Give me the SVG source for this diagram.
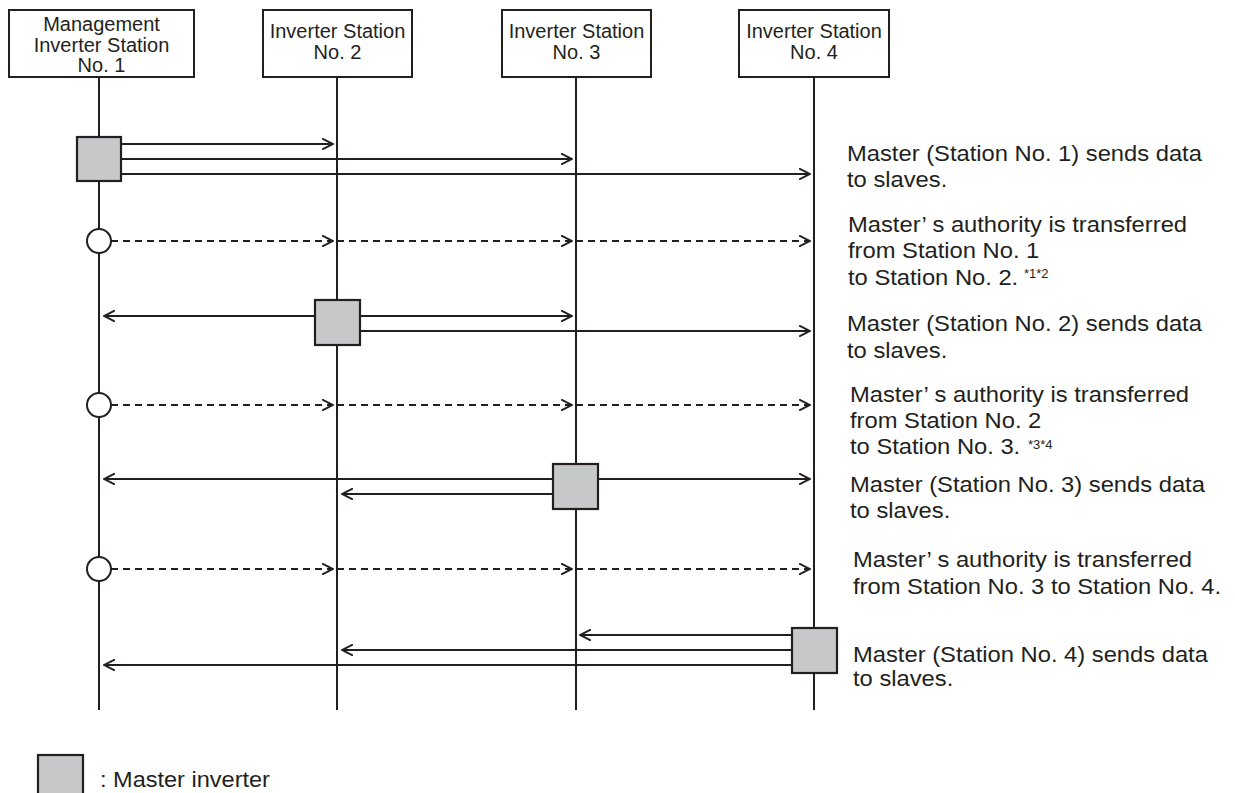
<svg xmlns="http://www.w3.org/2000/svg" width="1235" height="793" viewBox="0 0 1235 793">
  <style>
    .hdr { fill: #fff; stroke: #231f20; stroke-width: 2; }
    .life { stroke: #231f20; stroke-width: 2; fill: none; }
    .master { fill: #c7c8ca; stroke: #231f20; stroke-width: 2.2; }
    .token { fill: #fff; stroke: #231f20; stroke-width: 2; }
    .msg { stroke: #231f20; stroke-width: 2; fill: none; marker-end: url(#chev); }
    .dash { stroke: #231f20; stroke-width: 2; fill: none; stroke-dasharray: 7 5; marker-end: url(#chev); }
    text { font-family: "Liberation Sans", Arial, Helvetica, sans-serif; fill: #231f20; }
    .htxt { font-size: 20px; text-anchor: middle; }
    .note { font-size: 22px; }
    .sup { font-size: 13px; }
  </style>
  <defs>
    <marker id="chev" viewBox="0 0 12 12" markerWidth="12" markerHeight="12" markerUnits="userSpaceOnUse" refX="11" refY="6" orient="auto">
      <path d="M0,0.5 L11,6 L0,11.5" fill="none" stroke="#231f20" stroke-width="2"/>
    </marker>
  </defs>

  <rect width="1235" height="793" fill="#fff"/>

  <!-- stations: header box + lifeline -->
  <g id="station1">
    <rect class="hdr" x="9" y="10" width="185" height="67"/>
    <text class="htxt" x="101.5" y="31">Management</text>
    <text class="htxt" x="101.5" y="52">Inverter Station</text>
    <text class="htxt" x="101.5" y="72">No. 1</text>
    <line class="life" x1="99" y1="77" x2="99" y2="710"/>
  </g>
  <g id="station2">
    <rect class="hdr" x="263" y="10" width="149" height="67"/>
    <text class="htxt" x="337.5" y="38">Inverter Station</text>
    <text class="htxt" x="337.5" y="59">No. 2</text>
    <line class="life" x1="337" y1="77" x2="337" y2="710"/>
  </g>
  <g id="station3">
    <rect class="hdr" x="502" y="10" width="149" height="67"/>
    <text class="htxt" x="576.5" y="38">Inverter Station</text>
    <text class="htxt" x="576.5" y="59">No. 3</text>
    <line class="life" x1="576" y1="77" x2="576" y2="710"/>
  </g>
  <g id="station4">
    <rect class="hdr" x="739" y="10" width="150" height="67"/>
    <text class="htxt" x="814" y="38">Inverter Station</text>
    <text class="htxt" x="814" y="59">No. 4</text>
    <line class="life" x1="814" y1="77" x2="814" y2="710"/>
  </g>

  <!-- messages -->
  <g id="connectors">
    <!-- master 1 broadcast -->
    <line class="msg" x1="121" y1="144" x2="333" y2="144"/>
    <line class="msg" x1="121" y1="159" x2="572" y2="159"/>
    <line class="msg" x1="121" y1="174" x2="810" y2="174"/>
    <!-- token pass 1 -->
    <line class="dash" x1="111" y1="241" x2="333" y2="241"/>
    <line class="dash" x1="337" y1="241" x2="572" y2="241"/>
    <line class="dash" x1="576" y1="241" x2="810" y2="241"/>
    <!-- master 2 broadcast -->
    <line class="msg" x1="315" y1="316" x2="104" y2="316"/>
    <line class="msg" x1="360" y1="316" x2="572" y2="316"/>
    <line class="msg" x1="360" y1="331" x2="810" y2="331"/>
    <!-- token pass 2 -->
    <line class="dash" x1="111" y1="405" x2="333" y2="405"/>
    <line class="dash" x1="337" y1="405" x2="572" y2="405"/>
    <line class="dash" x1="576" y1="405" x2="810" y2="405"/>
    <!-- master 3 broadcast -->
    <line class="msg" x1="553" y1="479" x2="104" y2="479"/>
    <line class="msg" x1="598" y1="479" x2="810" y2="479"/>
    <line class="msg" x1="553" y1="494" x2="342" y2="494"/>
    <!-- token pass 3 -->
    <line class="dash" x1="111" y1="569" x2="333" y2="569"/>
    <line class="dash" x1="337" y1="569" x2="572" y2="569"/>
    <line class="dash" x1="576" y1="569" x2="810" y2="569"/>
    <!-- master 4 broadcast -->
    <line class="msg" x1="792" y1="635" x2="580" y2="635"/>
    <line class="msg" x1="792" y1="650" x2="342" y2="650"/>
    <line class="msg" x1="792" y1="665" x2="104" y2="665"/>
  </g>

  <!-- master activations and token marks -->
  <g id="master1"><rect class="master" x="77" y="137" width="44" height="44"/></g>
  <g id="token1"><circle class="token" cx="99" cy="241" r="12"/></g>
  <g id="master2"><rect class="master" x="315" y="300" width="45" height="45"/></g>
  <g id="token2"><circle class="token" cx="99" cy="405" r="12"/></g>
  <g id="master3"><rect class="master" x="553" y="464" width="45" height="45"/></g>
  <g id="token3"><circle class="token" cx="99" cy="569" r="12"/></g>
  <g id="master4"><rect class="master" x="792" y="628" width="45" height="45"/></g>

  <!-- step descriptions -->
  <g id="note1" transform="translate(847,0) scale(1.08,1)">
    <text class="note" x="0" y="161">Master (Station No. 1) sends data</text>
    <text class="note" x="0" y="187">to slaves.</text>
  </g>
  <g id="note2" transform="translate(848,0) scale(1.08,1)">
    <text class="note" x="0" y="232">Master’ s authority is transferred</text>
    <text class="note" x="0" y="258">from Station No. 1</text>
    <text class="note" x="0" y="285">to Station No. 2.</text>
  </g>
  <text class="sup" x="1024" y="278">*1*2</text>
  <g id="note3" transform="translate(847,0) scale(1.08,1)">
    <text class="note" x="0" y="331">Master (Station No. 2) sends data</text>
    <text class="note" x="0" y="358">to slaves.</text>
  </g>
  <g id="note4" transform="translate(850,0) scale(1.08,1)">
    <text class="note" x="0" y="402">Master’ s authority is transferred</text>
    <text class="note" x="0" y="428">from Station No. 2</text>
    <text class="note" x="0" y="454">to Station No. 3.</text>
  </g>
  <text class="sup" x="1028" y="449">*3*4</text>
  <g id="note5" transform="translate(850,0) scale(1.08,1)">
    <text class="note" x="0" y="492">Master (Station No. 3) sends data</text>
    <text class="note" x="0" y="518">to slaves.</text>
  </g>
  <g id="note6" transform="translate(853,0) scale(1.08,1)">
    <text class="note" x="0" y="567">Master’ s authority is transferred</text>
    <text class="note" x="0" y="594">from Station No. 3 to Station No. 4.</text>
  </g>
  <g id="note7" transform="translate(853,0) scale(1.08,1)">
    <text class="note" x="0" y="662">Master (Station No. 4) sends data</text>
    <text class="note" x="0" y="686">to slaves.</text>
  </g>

  <!-- legend -->
  <g id="legend">
    <rect class="master" x="38" y="755" width="45" height="45"/>
    <g transform="translate(100,0) scale(1.07,1)">
      <text class="note" x="0" y="787">: Master inverter</text>
    </g>
  </g>
</svg>
